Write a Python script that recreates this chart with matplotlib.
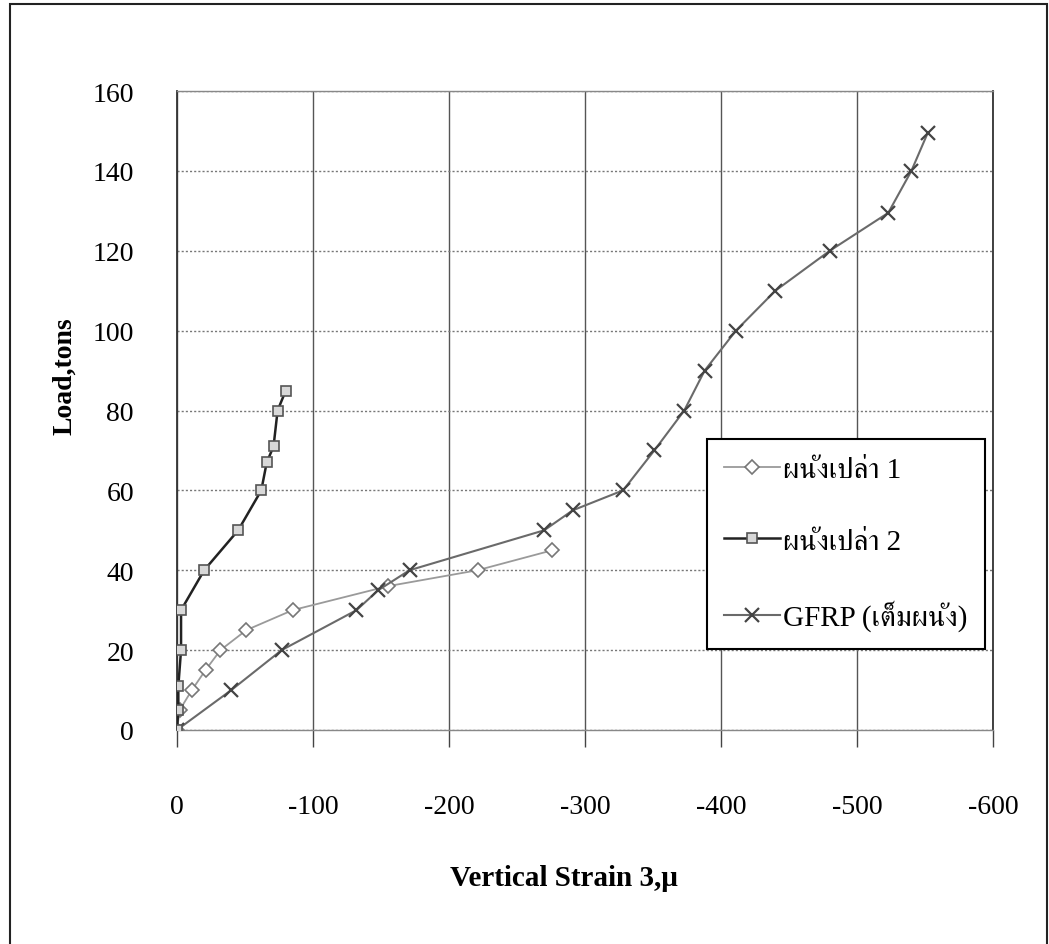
import matplotlib
matplotlib.use("Agg")
import matplotlib.pyplot as plt
from matplotlib import font_manager
from matplotlib.ft2font import FT2Font
from matplotlib.patches import Rectangle

# load / strain readings
wall1_strain = [0, -2, -11, -21, -32, -51, -85, -155, -221, -276]
wall1_load = [0, 5, 10, 15, 20, 25, 30, 36, 40, 45]

wall2_strain = [0, -1, -1, -3, -3, -20, -45, -62, -66, -71, -74, -80]
wall2_load = [0, 5, 11, 20, 30, 40, 50, 60, 67, 71, 80, 85]

gfrp_strain = [0, -40, -77, -132, -148, -171, -270, -291, -328, -351, -373,
               -388, -411, -440, -480, -523, -540, -552]
gfrp_load = [0, 10, 20, 30, 35, 40, 50, 55, 60, 70, 80, 90, 100, 110, 120,
             129.5, 140, 149.5]

series_names = ["ผนังเปล่า 1", "ผนังเปล่า 2", "GFRP (เต็มผนัง)"]
x_ticks = [0, -100, -200, -300, -400, -500, -600]
y_ticks = [0, 20, 40, 60, 80, 100, 120, 140, 160]


def find_thai_family():
    # pick an installed family that has Thai glyphs, serif preferred
    found = []
    for f in font_manager.fontManager.ttflist:
        try:
            cmap = FT2Font(f.fname).get_charmap()
        except Exception:
            continue
        if 0x0E1C in cmap and 0x0E07 in cmap:
            found.append(f.name)
    if not found:
        return "DejaVu Sans"
    for name in found:
        if "Serif" in name or "Looped" in name:
            return name
    return found[0]


thai_family = find_thai_family()
serif = "Liberation Serif"
plt.rcParams["axes.unicode_minus"] = False

fig = plt.figure(figsize=(10.49, 9.45), dpi=100)
ax = fig.add_axes([0.1687, 0.2265, 0.7779, 0.6761])

ax.plot(wall1_strain, wall1_load, color="#9a9a9a", lw=1.3, marker="D",
        ms=7, mfc="white", mec="#777777", mew=1.2, label=series_names[0], zorder=3)
ax.plot(wall2_strain, wall2_load, color="#222222", lw=1.8, marker="s",
        ms=7, mfc="#d8d8d8", mec="#555555", mew=1.2, label=series_names[1], zorder=4)
ax.plot(gfrp_strain, gfrp_load, color="#6a6a6a", lw=1.5, marker="x",
        ms=10, mec="#444444", mew=1.6, label=series_names[2], zorder=3)

ax.set_xlim(0, -600)
ax.set_ylim(0, 160)
ax.set_xticks(x_ticks)
ax.set_yticks(y_ticks)
ax.set_xticklabels([str(v) for v in x_ticks], family=serif, fontsize=20)
ax.set_yticklabels([str(v) for v in y_ticks], family=serif, fontsize=20)
ax.tick_params(axis="x", length=12, width=1, color="#444444", pad=34, direction="out")
ax.tick_params(axis="y", length=0, pad=31)

ax.yaxis.grid(True, color="#777777", lw=1, ls=(0, (1.5, 1.5)))
ax.xaxis.grid(True, color="#555555", lw=1)
ax.set_axisbelow(True)
for side in ["left", "right"]:
    ax.spines[side].set_color("#333333")
    ax.spines[side].set_linewidth(1.3)
ax.spines["top"].set_color("#888888")
ax.spines["top"].set_linewidth(1)
ax.spines["bottom"].set_color("#888888")
ax.spines["bottom"].set_linewidth(1)

ax.set_xlabel("Vertical Strain 3,μ", family=serif, fontsize=21, fontweight="bold")
ax.xaxis.set_label_coords(0.474, -0.2097)
ax.set_ylabel("Load,tons", family=serif, fontsize=20, fontweight="bold")
ax.yaxis.set_label_coords(-0.1225, 0.556)

leg = ax.legend(loc="upper left", bbox_to_anchor=(0.6495, 0.4554),
                borderaxespad=0, fancybox=False, framealpha=1,
                edgecolor="black", handlelength=1.9, handletextpad=0.1,
                labelspacing=1.55, borderpad=0.6,
                prop={"family": [serif, thai_family], "size": 21})
leg.get_frame().set_linewidth(1.5)

# outer chart border
fig.patches.append(Rectangle((10 / 1049, -0.01), 1037 / 1049, 1 - 5 / 945 + 0.01,
                             transform=fig.transFigure, fill=False,
                             edgecolor="#222222", lw=1.5))

fig.savefig("out.png", dpi=100)
